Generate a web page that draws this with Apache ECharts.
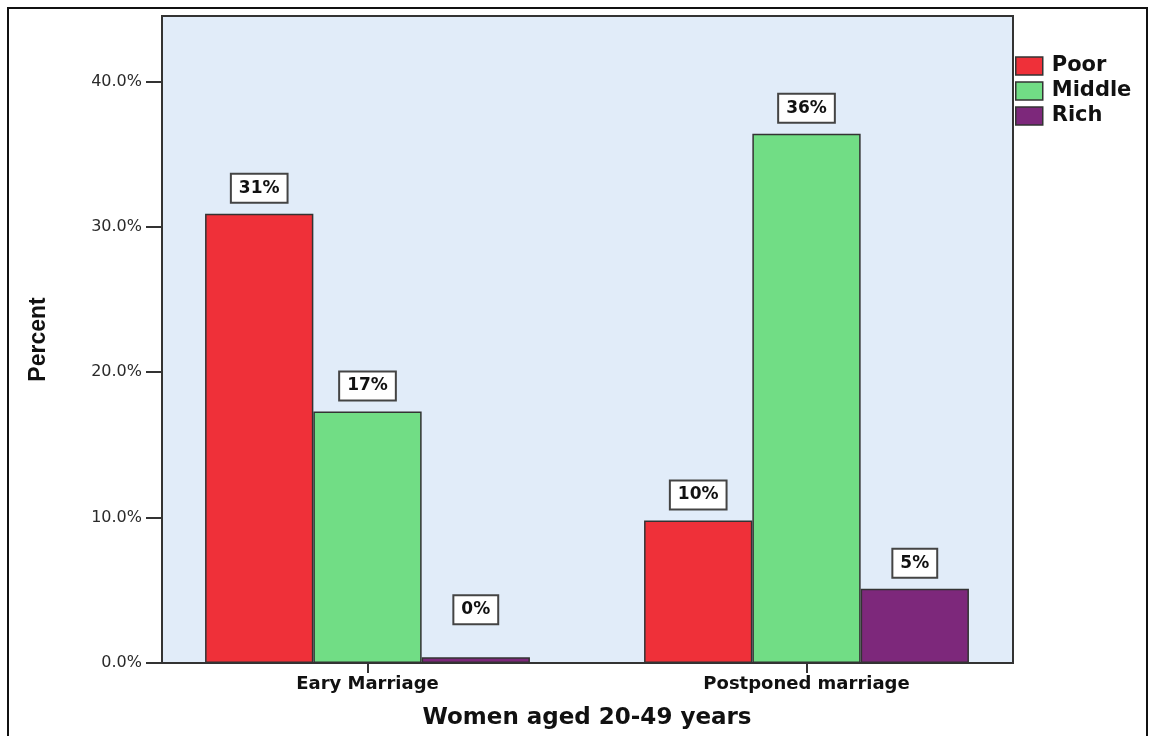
<!DOCTYPE html>
<html>
<head>
<meta charset="utf-8">
<script src="https://cdn.jsdelivr.net/npm/echarts@6/dist/echarts.min.js"></script>
<style>
  html, body { margin: 0; padding: 0; background: #fff; }
  #chart { width: 1152px; height: 736px; }
</style>
</head>
<body>
<div id="chart"></div>
<script>
// Percent of women aged 20-49 by marriage timing and wealth group
const categories = ['Eary Marriage', 'Postponed marriage'];
const seriesNames = ['Poor', 'Middle', 'Rich'];
const poor = [30.9, 9.8];
const middle = [17.3, 36.4];
const rich = [0.4, 5.1];
const yTicks = [0, 10, 20, 30, 40];

const colors = ['#EF3039', '#71DD85', '#7D287B'];
const values = [poor, middle, rich];

// plot frame (left, top, right, bottom)
const plot = { x0: 162, y0: 16, x1: 1013, y1: 663 };

const chart = echarts.init(document.getElementById('chart'), null, { renderer: 'canvas' });

const baseLabel = {
  show: true,
  position: 'top',
  distance: 12,
  formatter: p => Math.round(p.value) + '%',
  backgroundColor: '#fff',
  borderColor: '#444',
  borderWidth: 2,
  padding: [4, 7, 4, 7],
  lineHeight: 19,
  fontFamily: 'DejaVu Sans',
  fontWeight: 'bold',
  fontSize: 17,
  color: '#111'
};

// very short bars keep their label lifted clear of the axis
const barItems = vals => vals.map(v => (v < 2 ? { value: v, label: { distance: 34 } } : v));

chart.setOption({
  animation: false,
  backgroundColor: '#fff',
  color: colors,
  grid: { left: 148, right: 126, top: plot.y0, bottom: 736 - plot.y1, containLabel: false },
  graphic: [
    { type: 'rect', z: -10, silent: true,
      shape: { x: 8, y: 8, width: 1139, height: 740 },
      style: { fill: '#fff', stroke: '#111', lineWidth: 2 } },
    { type: 'rect', z: -5, silent: true,
      shape: { x: plot.x0, y: plot.y0, width: plot.x1 - plot.x0, height: plot.y1 - plot.y0 },
      style: { fill: '#E1ECF9', stroke: null } },
    { type: 'rect', z: 50, silent: true,
      shape: { x: plot.x0, y: plot.y0, width: plot.x1 - plot.x0, height: plot.y1 - plot.y0 },
      style: { fill: null, stroke: '#333', lineWidth: 2 } }
  ],
  legend: {
    orient: 'vertical',
    left: 1015,
    top: 55.5,
    padding: 0,
    itemWidth: 27,
    itemHeight: 18,
    itemGap: 4,
    icon: 'rect',
    itemStyle: { borderColor: '#333', borderWidth: 1.5 },
    textStyle: { fontFamily: 'DejaVu Sans', fontWeight: 'bold', fontSize: 21, lineHeight: 21, color: '#111', padding: [0, 0, 0, 4] },
    data: seriesNames
  },
  xAxis: {
    type: 'category',
    data: categories,
    axisLine: { show: false },
    axisTick: { show: true, alignWithLabel: true, length: 10, lineStyle: { color: '#333', width: 2 } },
    axisLabel: { margin: 12, fontFamily: 'DejaVu Sans', fontWeight: 'bold', fontSize: 18, color: '#111' },
    name: 'Women aged 20-49 years',
    nameLocation: 'middle',
    nameGap: 44,
    nameTextStyle: { fontFamily: 'DejaVu Sans', fontWeight: 'bold', fontSize: 23, color: '#111' },
    splitLine: { show: false }
  },
  yAxis: {
    type: 'value',
    min: 0,
    max: 44.5,
    interval: 10,
    offset: -(plot.x0 - 148),
    axisLine: { show: false },
    axisTick: { show: true, length: 16, customValues: yTicks, lineStyle: { color: '#333', width: 2 } },
    axisLabel: {
      customValues: yTicks,
      margin: 20,
      formatter: v => v.toFixed(1) + '%',
      fontFamily: 'DejaVu Sans',
      fontSize: 16,
      color: '#2a2a2a'
    },
    splitLine: { show: false },
    name: 'Percent',
    nameLocation: 'middle',
    nameGap: 112,
    nameTextStyle: { fontFamily: 'Liberation Sans', fontWeight: 'bold', fontSize: 23, color: '#111' }
  },
  series: seriesNames.map((name, i) => ({
    name: name,
    type: 'bar',
    data: barItems(values[i]),
    barGap: '0%',
    barCategoryGap: '26%',
    itemStyle: { color: colors[i], borderColor: '#333', borderWidth: 1.5 },
    label: baseLabel
  }))
});
</script>
</body>
</html>
